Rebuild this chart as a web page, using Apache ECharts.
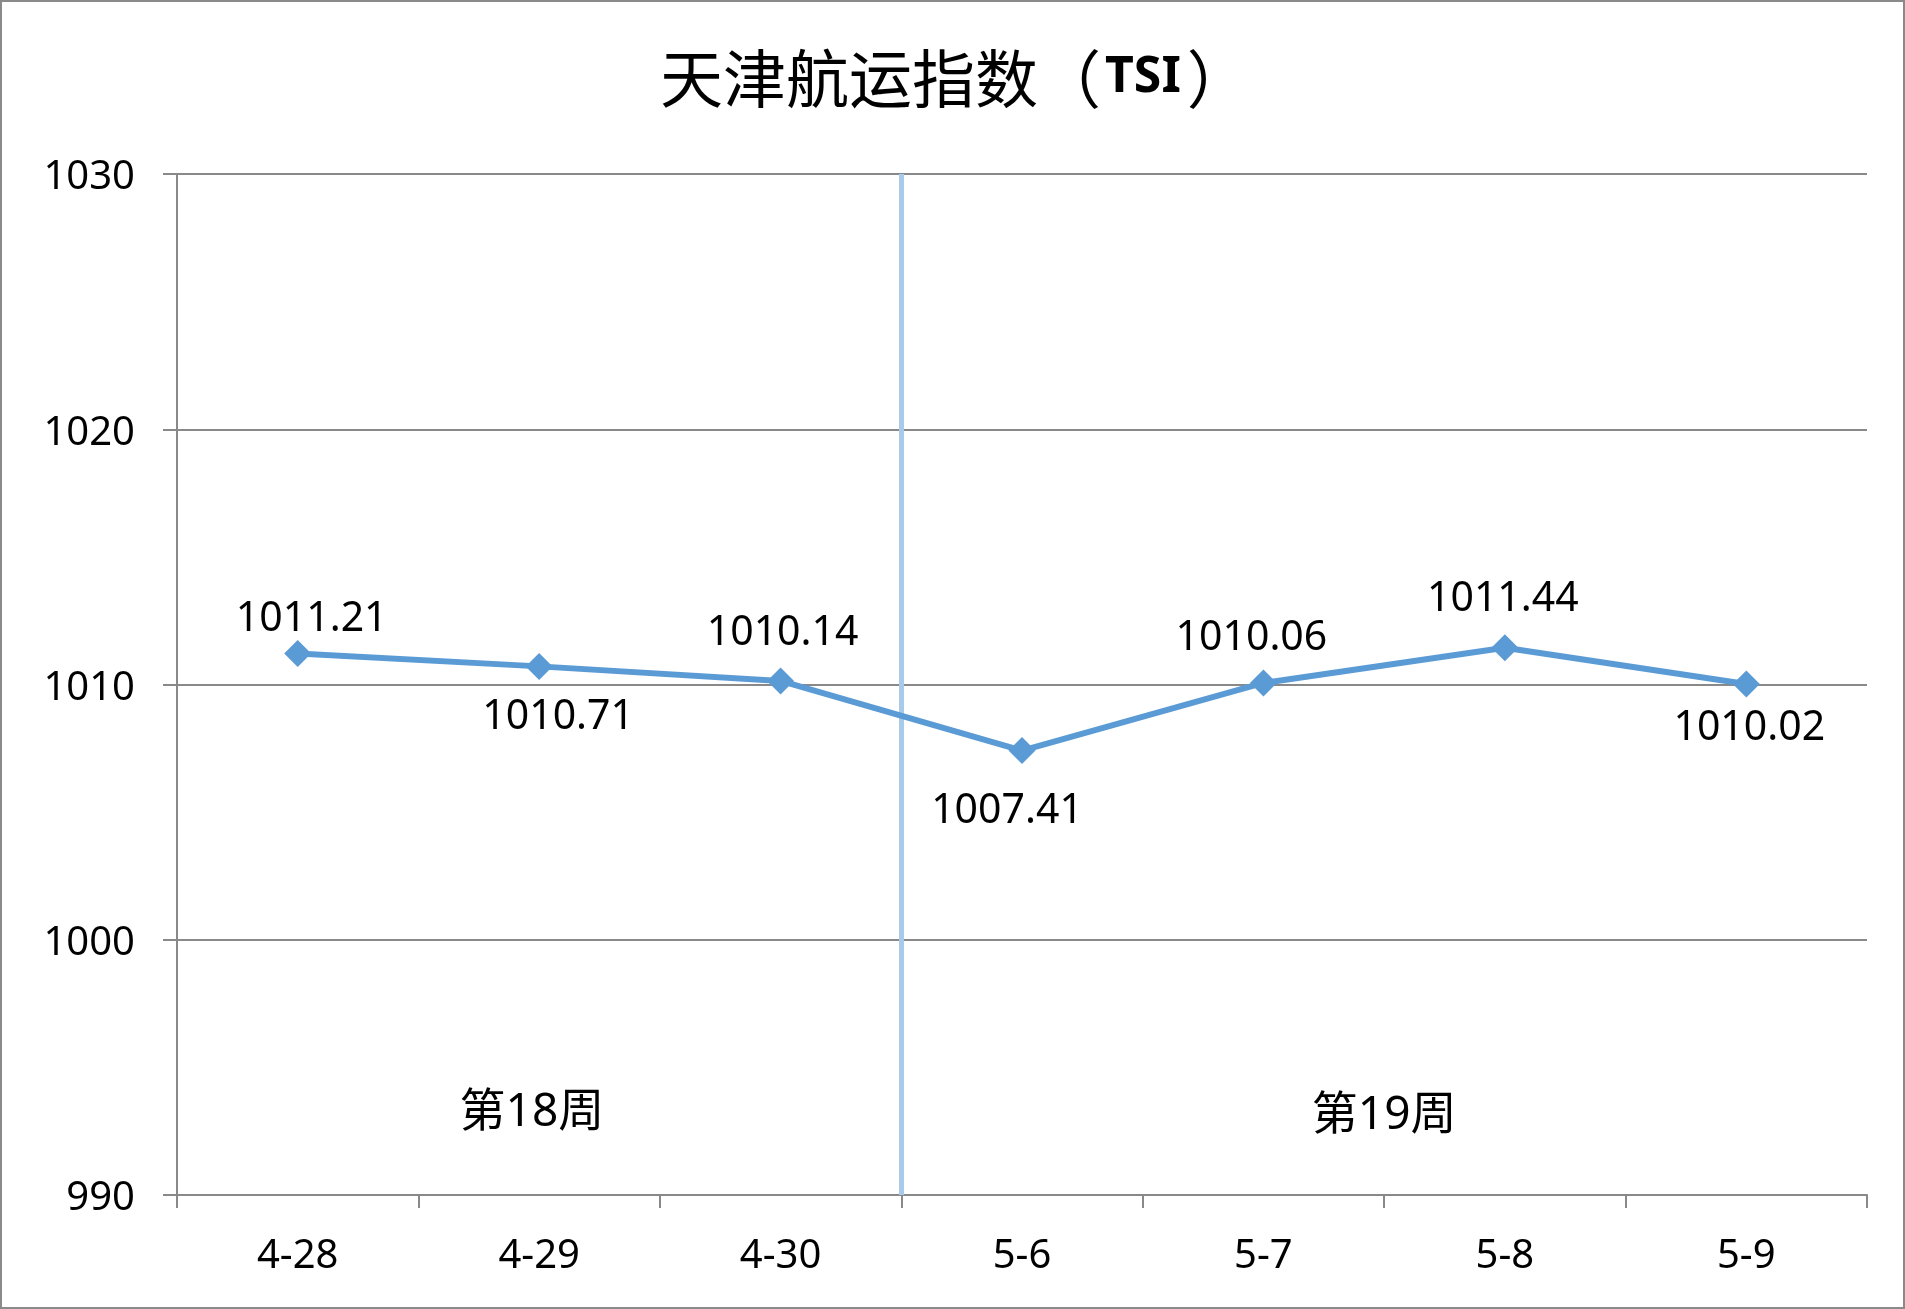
<!DOCTYPE html>
<html>
<head>
<meta charset="utf-8">
<script src="https://cdn.jsdelivr.net/npm/echarts@6/dist/echarts.min.js"></script>
<style>
html,body{margin:0;padding:0;background:#fff;}
#chart{width:1905px;height:1309px;}
</style>
</head>
<body>
<div id="chart"></div>
<script>
// ---- data ----
const categories = ['4-28', '4-29', '4-30', '5-6', '5-7', '5-8', '5-9'];
const tsiValues = [1011.21, 1010.71, 1010.14, 1007.41, 1010.06, 1011.44, 1010.02];
const yTicks = [990, 1000, 1010, 1020, 1030];
const weekNames = ['第18周', '第19周'];
const weekSplitAt = 3;          // boundary index between week 18 and week 19
const weekLabelX = [1.47, 5.0]; // centre of each week group (in category units)
const weekLabelY = [993.2, 993.1];
const chartTitle = '天津航运指数';
const chartTitleAbbr = 'TSI';

// ---- presentation ----
const labelOffsets = [[14, -34], [19, 51], [2, -48], [-15, 61], [-12, -45], [-2, -48], [3, 44]];
const FONT = '"Noto Sans", "Noto Sans CJK SC", sans-serif';
const GRID_COLOR = '#898989';

const chart = echarts.init(document.getElementById('chart'), null, {renderer: 'canvas'});

const option = {
  backgroundColor: '#ffffff',
  animation: false,
  title: {
    text: '{a|' + chartTitle + '（}{b|' + chartTitleAbbr + '}{a|）}',
    left: 655,
    top: 37,
    textStyle: {
      fontWeight: 'normal',
      rich: {
        a: {fontFamily: '"Noto Sans CJK SC", sans-serif', fontSize: 63, fontWeight: 'normal', color: '#000', lineHeight: 72},
        b: {fontFamily: '"Noto Sans", sans-serif', fontSize: 50, fontWeight: 'bold', color: '#000', lineHeight: 72, padding: [0, 6, 0, 4]}
      }
    }
  },
  graphic: [{
    type: 'rect',
    shape: {x: 1, y: 1, width: 1903, height: 1307},
    style: {fill: 'none', stroke: '#8a8a8a', lineWidth: 2},
    silent: true,
    z: 100
  }],
  grid: {left: 177, right: 38, top: 174, bottom: 114, containLabel: false},
  xAxis: [{
    type: 'category',
    data: categories,
    boundaryGap: true,
    axisLine: {show: true, lineStyle: {color: GRID_COLOR, width: 2}},
    axisTick: {show: true, length: 13, interval: 0, lineStyle: {color: GRID_COLOR, width: 2}},
    axisLabel: {interval: 0, margin: 42, color: '#000', fontSize: 40, fontFamily: FONT},
    splitLine: {show: false}
  }, {
    type: 'value',
    min: 0,
    max: categories.length,
    show: false
  }],
  yAxis: {
    type: 'value',
    min: yTicks[0],
    max: yTicks[yTicks.length - 1],
    interval: yTicks[1] - yTicks[0],
    axisLine: {show: true, lineStyle: {color: GRID_COLOR, width: 2}},
    axisTick: {show: true, length: 14, lineStyle: {color: GRID_COLOR, width: 2}},
    axisLabel: {margin: 42, color: '#000', fontSize: 40, fontFamily: FONT, verticalAlign: 'top', lineHeight: 8, formatter: v => String(v)},
    splitLine: {show: true, lineStyle: {color: GRID_COLOR, width: 2}}
  },
  series: [{
    type: 'line',
    name: 'TSI',
    xAxisIndex: 0,
    data: tsiValues.map((v, i) => ({
      value: v,
      label: {offset: labelOffsets[i]}
    })),
    symbol: 'diamond',
    symbolSize: 27,
    lineStyle: {color: '#5b9bd5', width: 6},
    itemStyle: {color: '#5b9bd5'},
    label: {
      show: true,
      position: 'inside',
      color: '#000',
      fontSize: 41,
      fontFamily: FONT,
      formatter: p => p.value.toFixed(2)
    },
    z: 5
  }, {
    type: 'line',
    name: 'annot',
    xAxisIndex: 1,
    data: [],
    silent: true,
    z: 4,
    markLine: {
      silent: true,
      symbol: ['none', 'none'],
      animation: false,
      label: {show: false},
      lineStyle: {color: '#a9cbeb', width: 5, type: 'solid'},
      data: [{xAxis: weekSplitAt}]
    },
    markPoint: {
      silent: true,
      symbol: 'circle',
      symbolSize: 1,
      itemStyle: {color: 'rgba(0,0,0,0)'},
      label: {
        show: true,
        position: 'inside',
        color: '#000',
        fontSize: 46,
        fontFamily: FONT,
        formatter: p => p.name
      },
      data: weekNames.map((n, i) => ({name: n, coord: [weekLabelX[i], weekLabelY[i]]}))
    }
  }]
};

chart.setOption(option);
</script>
</body>
</html>
